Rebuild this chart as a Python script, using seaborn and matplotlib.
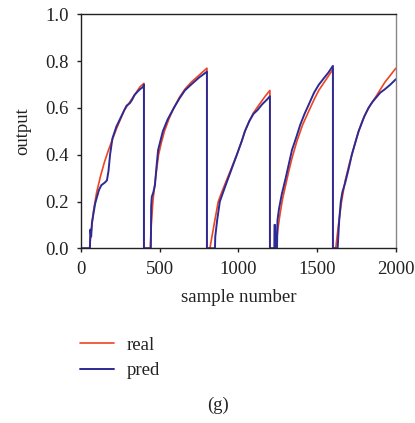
import matplotlib
matplotlib.use("Agg")
import matplotlib.pyplot as plt
import seaborn as sns
import pandas as pd

# ---- data ----
real_x = [0, 55, 65, 80, 100, 125, 150, 175, 200, 225, 250, 275, 300, 325, 350, 375, 400, 400,
          440, 447, 457, 470, 493, 510, 530, 560, 590, 625, 660, 700, 750, 800, 800,
          819, 845, 872, 900, 930, 960, 990, 1022, 1041, 1070, 1096, 1138, 1170, 1200, 1200,
          1238, 1250, 1265, 1280, 1300, 1320, 1340, 1370, 1407, 1445, 1480, 1510, 1550, 1600, 1600,
          1618, 1635, 1655, 1678, 1700, 1720, 1745, 1763, 1790, 1826, 1860, 1879, 1930, 1965, 2000]
real_y = [0, 0, 0.07, 0.16, 0.24, 0.31, 0.37, 0.42, 0.465, 0.51, 0.55, 0.59, 0.615, 0.64, 0.665, 0.69, 0.705, 0,
          0, 0.10, 0.20, 0.28, 0.40, 0.45, 0.50, 0.555, 0.60, 0.645, 0.68, 0.71, 0.74, 0.77, 0,
          0, 0.10, 0.20, 0.25, 0.30, 0.35, 0.40, 0.46, 0.50, 0.545, 0.58, 0.62, 0.65, 0.675, 0,
          0, 0.08, 0.15, 0.21, 0.27, 0.33, 0.385, 0.455, 0.527, 0.584, 0.635, 0.675, 0.715, 0.765, 0,
          0, 0.10, 0.20, 0.29, 0.35, 0.40, 0.46, 0.50, 0.55, 0.60, 0.635, 0.655, 0.71, 0.74, 0.77]

pred_x = [0, 57, 60, 65, 70, 80, 90, 100, 115, 130, 150, 165, 175, 185, 200, 225, 250, 275, 290, 300,
          310, 325, 340, 360, 375, 385, 395, 400, 400,
          444, 446, 450, 460, 470, 480, 490, 505, 520, 550, 590, 625, 660, 700, 750, 790, 800, 800,
          851, 853, 865, 882, 903, 930, 960, 990, 1022, 1041, 1070, 1096, 1120, 1150, 1180, 1200, 1200,
          1228, 1229, 1233, 1236, 1245, 1248, 1258, 1275, 1300, 1320, 1340, 1370, 1392, 1420, 1445,
          1480, 1509, 1540, 1570, 1600, 1600,
          1630, 1640, 1650, 1660, 1678, 1700, 1720, 1763, 1800, 1826, 1850, 1879, 1900, 1930, 1965, 2000]
pred_y = [0, 0, 0.08, 0.05, 0.11, 0.15, 0.19, 0.215, 0.25, 0.27, 0.28, 0.29, 0.33, 0.40, 0.47, 0.52,
          0.555, 0.59, 0.61, 0.615, 0.62, 0.635, 0.655, 0.67, 0.68, 0.685, 0.69, 0.70, 0,
          0, 0.18, 0.22, 0.24, 0.27, 0.35, 0.42, 0.46, 0.50, 0.55, 0.60, 0.64, 0.675, 0.70, 0.73, 0.75, 0.755, 0,
          0, 0.05, 0.12, 0.20, 0.24, 0.29, 0.345, 0.40, 0.46, 0.50, 0.545, 0.575, 0.59, 0.615, 0.635, 0.65, 0,
          0, 0.10, 0.10, 0.0, 0.0, 0.12, 0.17, 0.23, 0.30, 0.36, 0.42, 0.48, 0.527, 0.575, 0.612,
          0.665, 0.698, 0.725, 0.75, 0.78, 0,
          0, 0.12, 0.20, 0.24, 0.28, 0.34, 0.40, 0.50, 0.565, 0.60, 0.625, 0.648, 0.665, 0.68, 0.70, 0.723]

x_ticks = [0, 500, 1000, 1500, 2000]
y_ticks = [0.0, 0.2, 0.4, 0.6, 0.8, 1.0]
series_names = ["real", "pred"]

sns.set_theme(style="ticks")
plt.rcParams["font.family"] = ["Liberation Serif", "DejaVu Serif"]

RED = "#ee4422"
BLUE = "#2d2a96"
TXT = "#222222"

fig = plt.figure(figsize=(4.15, 4.23), dpi=100)
ax = fig.add_axes([0.195, 0.413, 0.759, 0.553])

sns.lineplot(x=real_x, y=real_y, ax=ax, color=RED, lw=1.2, sort=False,
             estimator=None, label=series_names[0], legend=False)
sns.lineplot(x=pred_x, y=pred_y, ax=ax, color=BLUE, lw=1.4, sort=False,
             estimator=None, label=series_names[1], legend=False)

ax.set_xlim(0, 2000)
ax.set_ylim(0, 1.0)
ax.set_xticks(x_ticks)
ax.set_yticks(y_ticks)
ax.set_yticklabels([f"{v:.1f}" for v in y_ticks])
ax.tick_params(direction="out", length=3, width=1, labelsize=13.5, colors=TXT)
ax.tick_params(axis="y", pad=6)
ax.tick_params(axis="x", pad=6)
for s in ["left", "bottom", "top"]:
    ax.spines[s].set_color(TXT)
    ax.spines[s].set_linewidth(1.0)
ax.spines["right"].set_color("#888888")
ax.spines["right"].set_linewidth(1.0)
ax.set_xlabel("sample number", fontsize=13.5, color=TXT, labelpad=8)
ax.set_ylabel("output", fontsize=13.5, color=TXT, labelpad=10)

handles, labels = ax.get_legend_handles_labels()
fig.legend(handles, labels, loc="upper left", bbox_to_anchor=(0.153, 0.244),
           frameon=False, fontsize=13.5, handlelength=1.8, handletextpad=0.65,
           labelspacing=0.45, labelcolor=TXT)

fig.text(0.525, 0.042, "(g)", ha="center", va="center", fontsize=13.5, color=TXT)

fig.savefig("out.png", dpi=100)
